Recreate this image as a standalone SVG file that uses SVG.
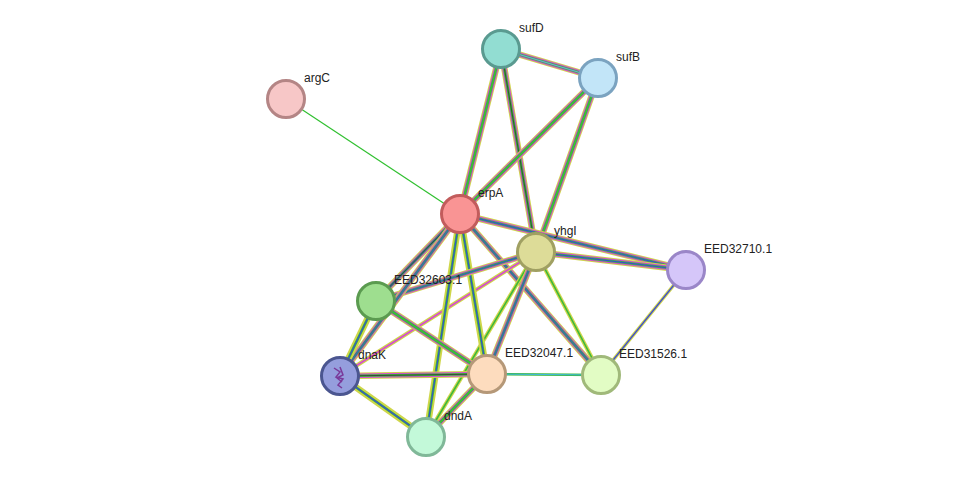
<svg xmlns="http://www.w3.org/2000/svg" width="976" height="483" viewBox="0 0 976 483">
<style>
.y{stroke:#cfd64a;stroke-width:6.5;fill:none}
.m{stroke:#d54ad5;stroke-width:4.6;fill:none}
.g{stroke:#3cb83c;stroke-width:2.7;fill:none}
.b{stroke:#3a48d8;stroke-width:1.1;fill:none}
.k{stroke:#333;stroke-width:0.8;fill:none}
.n circle{stroke-width:3}
text{font-family:"Liberation Sans",Arial,sans-serif;font-size:12px;fill:#222}
</style>
<defs>
<line id="e_sufD_sufB" x1="501" y1="49" x2="598" y2="78"/>
<line id="e_sufD_erpA" x1="501" y1="49" x2="460" y2="214"/>
<line id="e_sufD_yhgI" x1="501" y1="49" x2="536" y2="252"/>
<line id="e_sufB_erpA" x1="598" y1="78" x2="460" y2="214"/>
<line id="e_sufB_yhgI" x1="598" y1="78" x2="536" y2="252"/>
<line id="e_erpA_yhgI" x1="460" y1="214" x2="536" y2="252"/>
<line id="e_erpA_710" x1="460" y1="214" x2="686" y2="270"/>
<line id="e_yhgI_710" x1="536" y1="252" x2="686" y2="270"/>
<line id="e_erpA_603" x1="460" y1="214" x2="376" y2="301"/>
<line id="e_erpA_dnaK" x1="460" y1="214" x2="340" y2="376"/>
<line id="e_erpA_047" x1="460" y1="214" x2="487" y2="374"/>
<line id="e_erpA_dndA" x1="460" y1="214" x2="426" y2="437"/>
<line id="e_erpA_526" x1="460" y1="214" x2="601" y2="375"/>
<line id="e_yhgI_603" x1="536" y1="252" x2="376" y2="301"/>
<line id="e_yhgI_dnaK" x1="536" y1="252" x2="340" y2="376"/>
<line id="e_yhgI_047" x1="536" y1="252" x2="487" y2="374"/>
<line id="e_yhgI_dndA" x1="536" y1="252" x2="426" y2="437"/>
<line id="e_yhgI_526" x1="536" y1="252" x2="601" y2="375"/>
<line id="e_603_dnaK" x1="376" y1="301" x2="340" y2="376"/>
<line id="e_603_047" x1="376" y1="301" x2="487" y2="374"/>
<line id="e_dnaK_047" x1="340" y1="376" x2="487" y2="374"/>
<line id="e_dnaK_dndA" x1="340" y1="376" x2="426" y2="437"/>
<line id="e_047_dndA" x1="487" y1="374" x2="426" y2="437"/>
</defs>
<g id="edges">
<line x1="286" y1="99" x2="460" y2="214" stroke="#30c030" stroke-width="1.2"/>
<use href="#e_sufD_sufB" class="y"/><use href="#e_sufD_sufB" class="m"/><use href="#e_sufD_sufB" class="g"/><use href="#e_sufD_sufB" class="b" style="stroke:#70a0e0"/>
<use href="#e_sufD_erpA" class="y"/><use href="#e_sufD_erpA" class="m"/><use href="#e_sufD_erpA" class="g"/>
<use href="#e_sufD_yhgI" class="y"/><use href="#e_sufD_yhgI" class="m"/><use href="#e_sufD_yhgI" class="g"/><use href="#e_sufD_yhgI" class="k"/>
<use href="#e_sufB_erpA" class="y"/><use href="#e_sufB_erpA" class="m"/><use href="#e_sufB_erpA" class="g"/>
<use href="#e_sufB_yhgI" class="y"/><use href="#e_sufB_yhgI" class="m"/><use href="#e_sufB_yhgI" class="g"/>
<use href="#e_erpA_710" class="y"/><use href="#e_erpA_710" class="m"/><use href="#e_erpA_710" class="g"/><use href="#e_erpA_710" class="b"/>
<use href="#e_yhgI_710" class="y"/><use href="#e_yhgI_710" class="m"/><use href="#e_yhgI_710" class="g"/><use href="#e_yhgI_710" class="b"/>
<line x1="686" y1="270" x2="601" y2="375" stroke="#cfd64a" stroke-width="3.5"/><line x1="686" y1="270" x2="601" y2="375" stroke="#3a48d8" stroke-width="1.2"/>
<use href="#e_erpA_526" class="y"/><use href="#e_erpA_526" class="m"/><use href="#e_erpA_526" class="g"/><use href="#e_erpA_526" class="b"/>
<use href="#e_yhgI_526" class="y" style="stroke-width:4"/><use href="#e_yhgI_526" class="g" style="stroke-width:1.6"/>
<use href="#e_yhgI_dndA" class="y" style="stroke-width:4"/><use href="#e_yhgI_dndA" class="g" style="stroke-width:1.6"/>
<use href="#e_yhgI_dnaK" class="y" style="stroke-width:4"/><use href="#e_yhgI_dnaK" class="m" style="stroke-width:1.6"/>
<use href="#e_erpA_047" class="y"/><use href="#e_erpA_047" class="g"/><use href="#e_erpA_047" class="b"/>
<use href="#e_erpA_dndA" class="y"/><use href="#e_erpA_dndA" class="g"/><use href="#e_erpA_dndA" class="b"/>
<use href="#e_yhgI_047" class="y"/><use href="#e_yhgI_047" class="m"/><use href="#e_yhgI_047" class="g"/><use href="#e_yhgI_047" class="b"/>
<use href="#e_yhgI_603" class="y"/><use href="#e_yhgI_603" class="m"/><use href="#e_yhgI_603" class="g"/><use href="#e_yhgI_603" class="b"/>
<use href="#e_erpA_603" class="y"/><use href="#e_erpA_603" class="m"/><use href="#e_erpA_603" class="g"/><use href="#e_erpA_603" class="b"/><use href="#e_erpA_603" class="k"/>
<use href="#e_erpA_dnaK" class="y"/><use href="#e_erpA_dnaK" class="m"/><use href="#e_erpA_dnaK" class="g"/><use href="#e_erpA_dnaK" class="b"/>
<use href="#e_603_dnaK" class="y"/><use href="#e_603_dnaK" class="g"/><use href="#e_603_dnaK" class="b"/>
<use href="#e_603_047" class="y"/><use href="#e_603_047" class="m"/><use href="#e_603_047" class="g"/>
<use href="#e_dnaK_047" class="y"/><use href="#e_dnaK_047" class="m"/><use href="#e_dnaK_047" class="g"/><use href="#e_dnaK_047" class="k"/>
<use href="#e_dnaK_dndA" class="y"/><use href="#e_dnaK_dndA" class="g"/><use href="#e_dnaK_dndA" class="b"/>
<use href="#e_047_dndA" class="y"/><use href="#e_047_dndA" class="m"/><use href="#e_047_dndA" class="g"/>
<line x1="487" y1="374" x2="601" y2="375" stroke="#3cb83c" stroke-width="2.6"/><line x1="487" y1="374" x2="601" y2="375" stroke="#40b8e0" stroke-width="1"/>
</g>
<g id="sufD" class="n"><circle cx="501" cy="49" r="18.5" fill="#92ddd2" stroke="#5a9a90"/><text x="519" y="32">sufD</text></g>
<g id="sufB" class="n"><circle cx="598" cy="78" r="18.5" fill="#c2e5f8" stroke="#7ba3c0"/><text x="616" y="61">sufB</text></g>
<g id="argC" class="n"><circle cx="286" cy="99" r="18.5" fill="#f7c7c7" stroke="#b48585"/><text x="304" y="82">argC</text></g>
<g id="erpA" class="n"><circle cx="460" cy="214" r="18.5" fill="#f99494" stroke="#c25c5c"/><text x="478" y="197">erpA</text></g>
<g id="yhgI" class="n"><circle cx="536" cy="252" r="18.5" fill="#dddc98" stroke="#a0a062"/><text x="554" y="235">yhgI</text></g>
<g id="EED32710.1" class="n"><circle cx="686" cy="270" r="18.5" fill="#d5c6f9" stroke="#9a86c8"/><text x="704" y="253">EED32710.1</text></g>
<g id="EED32603.1" class="n"><circle cx="376" cy="301" r="18.5" fill="#9ede8f" stroke="#5b9b50"/><text x="394" y="284">EED32603.1</text></g>
<g id="dnaK" class="n"><circle cx="340" cy="376" r="18.5" fill="#959edd" stroke="#4b5690"/>
<path d="M334 368 l6 4 -4 5 7 2 -5 6 4 3 M340 367 l3 8 -6 3 5 4" stroke="#7a3a9a" stroke-width="1.5" fill="none"/><text x="358" y="359">dnaK</text></g>
<g id="EED32047.1" class="n"><circle cx="487" cy="374" r="18.5" fill="#fddcbe" stroke="#b59878"/><text x="505" y="357">EED32047.1</text></g>
<g id="EED31526.1" class="n"><circle cx="601" cy="375" r="18.5" fill="#e2fcc4" stroke="#a0b97a"/><text x="619" y="358">EED31526.1</text></g>
<g id="dndA" class="n"><circle cx="426" cy="437" r="18.5" fill="#c3f9d9" stroke="#80b898"/><text x="444" y="420">dndA</text></g>
</svg>
